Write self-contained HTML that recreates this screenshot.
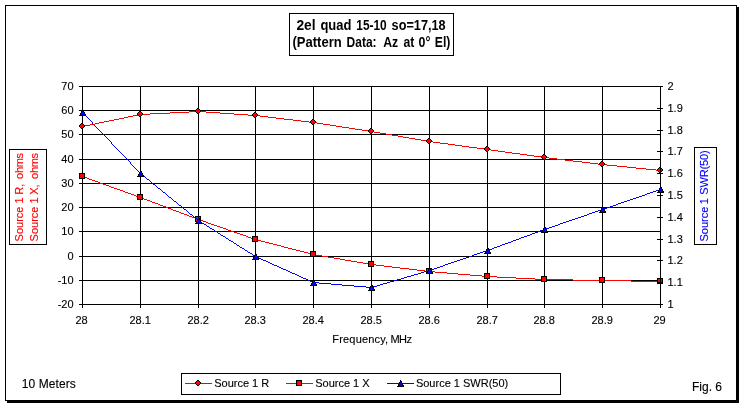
<!DOCTYPE html>
<html lang="en"><head><meta charset="utf-8"><title>2el quad 15-10 so=17,18</title>
<style>
html,body{margin:0;padding:0;background:#fff;}
body{width:744px;height:407px;overflow:hidden;}
svg{display:block;}
text{font-family:"Liberation Sans",sans-serif;font-size:11px;fill:#000;stroke:#000;stroke-width:.12px;}
.t12{font-size:12px;}
.ttl{font-size:14px;font-weight:bold;stroke:none;}
.red{fill:#f00;stroke:#f00;}.blue{fill:#00f;stroke:#00f;}
.ce{shape-rendering:crispEdges;}
</style></head><body>
<svg width="744" height="407" viewBox="0 0 744 407">
<rect x="0" y="0" width="744" height="407" fill="#fff"/>
<g class="ce">
<rect x="7" y="7" width="732" height="396" fill="#000"/>
<rect x="5.5" y="5.5" width="731" height="395" fill="#fff" stroke="#000" stroke-width="1"/>
<rect x="289.5" y="13.5" width="164" height="42" fill="#fff" stroke="#000" stroke-width="1"/>
<rect x="181.5" y="373.5" width="379" height="21" fill="#fff" stroke="#000" stroke-width="1"/>
<rect x="9.5" y="149.5" width="37" height="95" fill="#fff" stroke="#000" stroke-width="1"/>
<rect x="694.5" y="147.5" width="22" height="97" fill="#fff" stroke="#000" stroke-width="1"/>
<rect x="79" y="86" width="582" height="1" fill="#000"/>
<rect x="79" y="110" width="582" height="1" fill="#000"/>
<rect x="79" y="134" width="582" height="1" fill="#000"/>
<rect x="79" y="159" width="582" height="1" fill="#000"/>
<rect x="79" y="183" width="582" height="1" fill="#000"/>
<rect x="79" y="207" width="582" height="1" fill="#000"/>
<rect x="79" y="231" width="582" height="1" fill="#000"/>
<rect x="79" y="256" width="582" height="1" fill="#000"/>
<rect x="79" y="280" width="582" height="1" fill="#000"/>
<rect x="79" y="304" width="582" height="1" fill="#000"/>
<rect x="82" y="86" width="1" height="222" fill="#000"/>
<rect x="140" y="86" width="1" height="222" fill="#000"/>
<rect x="198" y="86" width="1" height="222" fill="#000"/>
<rect x="255" y="86" width="1" height="222" fill="#000"/>
<rect x="313" y="86" width="1" height="222" fill="#000"/>
<rect x="371" y="86" width="1" height="222" fill="#000"/>
<rect x="429" y="86" width="1" height="222" fill="#000"/>
<rect x="487" y="86" width="1" height="222" fill="#000"/>
<rect x="544" y="86" width="1" height="222" fill="#000"/>
<rect x="602" y="86" width="1" height="222" fill="#000"/>
<rect x="660" y="86" width="1" height="222" fill="#000"/>
</g>
<text x="73.6" y="90" text-anchor="end">70</text>
<text x="73.6" y="114" text-anchor="end">60</text>
<text x="73.6" y="138" text-anchor="end">50</text>
<text x="73.6" y="163" text-anchor="end">40</text>
<text x="73.6" y="187" text-anchor="end">30</text>
<text x="73.6" y="211" text-anchor="end">20</text>
<text x="73.6" y="235" text-anchor="end">10</text>
<text x="73.6" y="260" text-anchor="end">0</text>
<text x="73.6" y="284" text-anchor="end">-10</text>
<text x="73.6" y="308" text-anchor="end">-20</text>
<text x="667.5" y="90">2</text>
<text x="667.5" y="112">1.9</text>
<text x="667.5" y="134">1.8</text>
<text x="667.5" y="155">1.7</text>
<text x="667.5" y="177">1.6</text>
<text x="667.5" y="199">1.5</text>
<text x="667.5" y="221">1.4</text>
<text x="667.5" y="243">1.3</text>
<text x="667.5" y="264">1.2</text>
<text x="667.5" y="286">1.1</text>
<text x="667.5" y="308">1</text>
<text x="81.6" y="324" text-anchor="middle">28</text>
<text x="140.2" y="324" text-anchor="middle">28.1</text>
<text x="198.2" y="324" text-anchor="middle">28.2</text>
<text x="255.2" y="324" text-anchor="middle">28.3</text>
<text x="313.2" y="324" text-anchor="middle">28.4</text>
<text x="371.2" y="324" text-anchor="middle">28.5</text>
<text x="429.2" y="324" text-anchor="middle">28.6</text>
<text x="487.2" y="324" text-anchor="middle">28.7</text>
<text x="544.2" y="324" text-anchor="middle">28.8</text>
<text x="602.2" y="324" text-anchor="middle">28.9</text>
<text x="659.6" y="324" text-anchor="middle">29</text>
<text y="343"><tspan x="332.3" textLength="55.8">Frequency,</tspan> <tspan x="390.4" textLength="21.6">MHz</tspan></text>
<text class="ttl" y="30"><tspan x="296.4" textLength="19.2" lengthAdjust="spacingAndGlyphs">2el</tspan> <tspan x="320.4" textLength="31.0" lengthAdjust="spacingAndGlyphs">quad</tspan> <tspan x="356.3" textLength="30.4" lengthAdjust="spacingAndGlyphs">15-10</tspan> <tspan x="391.6" textLength="54.0" lengthAdjust="spacingAndGlyphs">so=17,18</tspan></text>
<text class="ttl" y="47"><tspan x="292.5" textLength="49.2" lengthAdjust="spacingAndGlyphs">(Pattern</tspan> <tspan x="346.6" textLength="30.0" lengthAdjust="spacingAndGlyphs">Data:</tspan> <tspan x="383.2" textLength="15.0" lengthAdjust="spacingAndGlyphs">Az</tspan> <tspan x="403.4" textLength="10.8" lengthAdjust="spacingAndGlyphs">at</tspan> <tspan x="418.6" textLength="11.8" lengthAdjust="spacingAndGlyphs">0°</tspan> <tspan x="434.8" textLength="15.6" lengthAdjust="spacingAndGlyphs">El)</tspan></text>
<text class="red" transform="translate(23,241.4) rotate(-90)"><tspan x="0">Source</tspan> <tspan x="38.0">1</tspan> <tspan x="46.7">R,</tspan> <tspan x="62.5" textLength="25.9">ohms</tspan></text>
<text class="red" transform="translate(38,241.4) rotate(-90)"><tspan x="0">Source</tspan> <tspan x="38.0">1</tspan> <tspan x="46.7">X,</tspan> <tspan x="62.5" textLength="25.9">ohms</tspan></text>
<text class="blue" transform="translate(708,241.5) rotate(-90)"><tspan x="0">Source</tspan> <tspan x="37.2">1</tspan> <tspan x="46.7" textLength="44.5">SWR(50)</tspan></text>
<text class="t12" x="21.8" y="388" textLength="54">10 Meters</text>
<text class="t12" x="692" y="391">Fig. 6</text>
<path class="ce" d="M189 111h17v1h-17zM170 112h19v1h-19zM206 112h14v1h-14zM150 113h20v1h-20zM220 113h14v1h-14zM138 114h12v1h-12zM234 114h14v1h-14zM133 115h5v1h-5zM248 115h12v1h-12zM128 116h5v1h-5zM260 116h8v1h-8zM124 117h4v1h-4zM268 117h8v1h-8zM119 118h5v1h-5zM276 118h8v1h-8zM114 119h5v1h-5zM284 119h9v1h-9zM109 120h5v1h-5zM293 120h8v1h-8zM104 121h5v1h-5zM301 121h8v1h-8zM99 122h5v1h-5zM309 122h8v1h-8zM95 123h4v1h-4zM317 123h6v1h-6zM90 124h5v1h-5zM323 124h7v1h-7zM85 125h5v1h-5zM330 125h6v1h-6zM82 126h3v1h-3zM336 126h6v1h-6zM342 127h7v1h-7zM349 128h6v1h-6zM355 129h7v1h-7zM362 130h6v1h-6zM368 131h6v1h-6zM374 132h6v1h-6zM380 133h6v1h-6zM386 134h6v1h-6zM392 135h6v1h-6zM398 136h5v1h-5zM403 137h6v1h-6zM409 138h6v1h-6zM415 139h6v1h-6zM421 140h6v1h-6zM427 141h6v1h-6zM433 142h7v1h-7zM440 143h8v1h-8zM448 144h7v1h-7zM455 145h7v1h-7zM462 146h7v1h-7zM469 147h8v1h-8zM477 148h7v1h-7zM484 149h7v1h-7zM491 150h7v1h-7zM498 151h7v1h-7zM505 152h7v1h-7zM512 153h8v1h-8zM520 154h7v1h-7zM527 155h7v1h-7zM534 156h7v1h-7zM541 157h8v1h-8zM549 158h8v1h-8zM557 159h8v1h-8zM565 160h8v1h-8zM573 161h9v1h-9zM582 162h8v1h-8zM590 163h8v1h-8zM598 164h9v1h-9zM607 165h10v1h-10zM617 166h10v1h-10zM627 167h9v1h-9zM636 168h10v1h-10zM646 169h10v1h-10zM656 170h5v1h-5z" fill="#f00"/>
<path class="ce" d="M81 123h2v1h-2zM80 124h1v1h-1zM83 124h1v1h-1zM79 125h1v1h-1zM84 125h1v1h-1zM79 126h1v1h-1zM84 126h1v1h-1zM80 127h1v1h-1zM83 127h1v1h-1zM81 128h2v1h-2z" fill="#000"/><path class="ce" d="M81 124h2v1h-2zM80 125h4v1h-4zM80 126h4v1h-4zM81 127h2v1h-2z" fill="#f00"/>
<path class="ce" d="M139 111h2v1h-2zM138 112h1v1h-1zM141 112h1v1h-1zM137 113h1v1h-1zM142 113h1v1h-1zM137 114h1v1h-1zM142 114h1v1h-1zM138 115h1v1h-1zM141 115h1v1h-1zM139 116h2v1h-2z" fill="#000"/><path class="ce" d="M139 112h2v1h-2zM138 113h4v1h-4zM138 114h4v1h-4zM139 115h2v1h-2z" fill="#f00"/>
<path class="ce" d="M197 108h2v1h-2zM196 109h1v1h-1zM199 109h1v1h-1zM195 110h1v1h-1zM200 110h1v1h-1zM195 111h1v1h-1zM200 111h1v1h-1zM196 112h1v1h-1zM199 112h1v1h-1zM197 113h2v1h-2z" fill="#000"/><path class="ce" d="M197 109h2v1h-2zM196 110h4v1h-4zM196 111h4v1h-4zM197 112h2v1h-2z" fill="#f00"/>
<path class="ce" d="M254 112h2v1h-2zM253 113h1v1h-1zM256 113h1v1h-1zM252 114h1v1h-1zM257 114h1v1h-1zM252 115h1v1h-1zM257 115h1v1h-1zM253 116h1v1h-1zM256 116h1v1h-1zM254 117h2v1h-2z" fill="#000"/><path class="ce" d="M254 113h2v1h-2zM253 114h4v1h-4zM253 115h4v1h-4zM254 116h2v1h-2z" fill="#f00"/>
<path class="ce" d="M312 119h2v1h-2zM311 120h1v1h-1zM314 120h1v1h-1zM310 121h1v1h-1zM315 121h1v1h-1zM310 122h1v1h-1zM315 122h1v1h-1zM311 123h1v1h-1zM314 123h1v1h-1zM312 124h2v1h-2z" fill="#000"/><path class="ce" d="M312 120h2v1h-2zM311 121h4v1h-4zM311 122h4v1h-4zM312 123h2v1h-2z" fill="#f00"/>
<path class="ce" d="M370 128h2v1h-2zM369 129h1v1h-1zM372 129h1v1h-1zM368 130h1v1h-1zM373 130h1v1h-1zM368 131h1v1h-1zM373 131h1v1h-1zM369 132h1v1h-1zM372 132h1v1h-1zM370 133h2v1h-2z" fill="#000"/><path class="ce" d="M370 129h2v1h-2zM369 130h4v1h-4zM369 131h4v1h-4zM370 132h2v1h-2z" fill="#f00"/>
<path class="ce" d="M428 138h2v1h-2zM427 139h1v1h-1zM430 139h1v1h-1zM426 140h1v1h-1zM431 140h1v1h-1zM426 141h1v1h-1zM431 141h1v1h-1zM427 142h1v1h-1zM430 142h1v1h-1zM428 143h2v1h-2z" fill="#000"/><path class="ce" d="M428 139h2v1h-2zM427 140h4v1h-4zM427 141h4v1h-4zM428 142h2v1h-2z" fill="#f00"/>
<path class="ce" d="M486 146h2v1h-2zM485 147h1v1h-1zM488 147h1v1h-1zM484 148h1v1h-1zM489 148h1v1h-1zM484 149h1v1h-1zM489 149h1v1h-1zM485 150h1v1h-1zM488 150h1v1h-1zM486 151h2v1h-2z" fill="#000"/><path class="ce" d="M486 147h2v1h-2zM485 148h4v1h-4zM485 149h4v1h-4zM486 150h2v1h-2z" fill="#f00"/>
<path class="ce" d="M543 154h2v1h-2zM542 155h1v1h-1zM545 155h1v1h-1zM541 156h1v1h-1zM546 156h1v1h-1zM541 157h1v1h-1zM546 157h1v1h-1zM542 158h1v1h-1zM545 158h1v1h-1zM543 159h2v1h-2z" fill="#000"/><path class="ce" d="M543 155h2v1h-2zM542 156h4v1h-4zM542 157h4v1h-4zM543 158h2v1h-2z" fill="#f00"/>
<path class="ce" d="M601 161h2v1h-2zM600 162h1v1h-1zM603 162h1v1h-1zM599 163h1v1h-1zM604 163h1v1h-1zM599 164h1v1h-1zM604 164h1v1h-1zM600 165h1v1h-1zM603 165h1v1h-1zM601 166h2v1h-2z" fill="#000"/><path class="ce" d="M601 162h2v1h-2zM600 163h4v1h-4zM600 164h4v1h-4zM601 165h2v1h-2z" fill="#f00"/>
<path class="ce" d="M659 167h2v1h-2zM658 168h1v1h-1zM661 168h1v1h-1zM657 169h1v1h-1zM662 169h1v1h-1zM657 170h1v1h-1zM662 170h1v1h-1zM658 171h1v1h-1zM661 171h1v1h-1zM659 172h2v1h-2z" fill="#000"/><path class="ce" d="M659 168h2v1h-2zM658 169h4v1h-4zM658 170h4v1h-4zM659 171h2v1h-2z" fill="#f00"/>
<path class="ce" d="M82 176h2v1h-2zM84 177h3v1h-3zM87 178h2v1h-2zM89 179h3v1h-3zM92 180h3v1h-3zM95 181h3v1h-3zM98 182h2v1h-2zM100 183h3v1h-3zM103 184h3v1h-3zM106 185h3v1h-3zM109 186h2v1h-2zM111 187h3v1h-3zM114 188h3v1h-3zM117 189h3v1h-3zM120 190h3v1h-3zM123 191h2v1h-2zM125 192h3v1h-3zM128 193h3v1h-3zM131 194h3v1h-3zM134 195h2v1h-2zM136 196h3v1h-3zM139 197h3v1h-3zM142 198h2v1h-2zM144 199h3v1h-3zM147 200h3v1h-3zM150 201h2v1h-2zM152 202h3v1h-3zM155 203h3v1h-3zM158 204h2v1h-2zM160 205h3v1h-3zM163 206h3v1h-3zM166 207h2v1h-2zM168 208h3v1h-3zM171 209h2v1h-2zM173 210h3v1h-3zM176 211h3v1h-3zM179 212h2v1h-2zM181 213h3v1h-3zM184 214h3v1h-3zM187 215h2v1h-2zM189 216h3v1h-3zM192 217h3v1h-3zM195 218h2v1h-2zM197 219h3v1h-3zM200 220h3v1h-3zM203 221h3v1h-3zM206 222h2v1h-2zM208 223h3v1h-3zM211 224h3v1h-3zM214 225h3v1h-3zM217 226h3v1h-3zM220 227h3v1h-3zM223 228h3v1h-3zM226 229h2v1h-2zM228 230h3v1h-3zM231 231h3v1h-3zM234 232h3v1h-3zM237 233h3v1h-3zM240 234h3v1h-3zM243 235h3v1h-3zM246 236h2v1h-2zM248 237h3v1h-3zM251 238h3v1h-3zM254 239h3v1h-3zM257 240h4v1h-4zM261 241h4v1h-4zM265 242h4v1h-4zM269 243h4v1h-4zM273 244h4v1h-4zM277 245h4v1h-4zM281 246h3v1h-3zM284 247h4v1h-4zM288 248h4v1h-4zM292 249h4v1h-4zM296 250h4v1h-4zM300 251h4v1h-4zM304 252h4v1h-4zM308 253h4v1h-4zM312 254h4v1h-4zM316 255h6v1h-6zM322 256h6v1h-6zM328 257h6v1h-6zM334 258h6v1h-6zM340 259h5v1h-5zM345 260h6v1h-6zM351 261h6v1h-6zM357 262h6v1h-6zM363 263h6v1h-6zM369 264h7v1h-7zM376 265h8v1h-8zM384 266h8v1h-8zM392 267h8v1h-8zM400 268h9v1h-9zM409 269h8v1h-8zM417 270h8v1h-8zM425 271h10v1h-10zM435 272h12v1h-12zM447 273h11v1h-11zM458 274h12v1h-12zM470 275h12v1h-12zM482 276h15v1h-15zM497 277h19v1h-19zM516 278h19v1h-19zM535 279h38v1h-38zM573 280h58v1h-58zM631 281h30v1h-30z" fill="#f00"/>
<path class="ce" d="M79 173h6v1h-6zM79 174h1v1h-1zM84 174h1v1h-1zM79 175h1v1h-1zM84 175h1v1h-1zM79 176h1v1h-1zM84 176h1v1h-1zM79 177h1v1h-1zM84 177h1v1h-1zM79 178h6v1h-6z" fill="#000"/><path class="ce" d="M80 174h4v1h-4zM80 175h4v1h-4zM80 176h4v1h-4zM80 177h4v1h-4z" fill="#f00"/>
<path class="ce" d="M137 194h6v1h-6zM137 195h1v1h-1zM142 195h1v1h-1zM137 196h1v1h-1zM142 196h1v1h-1zM137 197h1v1h-1zM142 197h1v1h-1zM137 198h1v1h-1zM142 198h1v1h-1zM137 199h6v1h-6z" fill="#000"/><path class="ce" d="M138 195h4v1h-4zM138 196h4v1h-4zM138 197h4v1h-4zM138 198h4v1h-4z" fill="#f00"/>
<path class="ce" d="M195 216h6v1h-6zM195 217h1v1h-1zM200 217h1v1h-1zM195 218h1v1h-1zM200 218h1v1h-1zM195 219h1v1h-1zM200 219h1v1h-1zM195 220h1v1h-1zM200 220h1v1h-1zM195 221h6v1h-6z" fill="#000"/><path class="ce" d="M196 217h4v1h-4zM196 218h4v1h-4zM196 219h4v1h-4zM196 220h4v1h-4z" fill="#f00"/>
<path class="ce" d="M252 236h6v1h-6zM252 237h1v1h-1zM257 237h1v1h-1zM252 238h1v1h-1zM257 238h1v1h-1zM252 239h1v1h-1zM257 239h1v1h-1zM252 240h1v1h-1zM257 240h1v1h-1zM252 241h6v1h-6z" fill="#000"/><path class="ce" d="M253 237h4v1h-4zM253 238h4v1h-4zM253 239h4v1h-4zM253 240h4v1h-4z" fill="#f00"/>
<path class="ce" d="M310 251h6v1h-6zM310 252h1v1h-1zM315 252h1v1h-1zM310 253h1v1h-1zM315 253h1v1h-1zM310 254h1v1h-1zM315 254h1v1h-1zM310 255h1v1h-1zM315 255h1v1h-1zM310 256h6v1h-6z" fill="#000"/><path class="ce" d="M311 252h4v1h-4zM311 253h4v1h-4zM311 254h4v1h-4zM311 255h4v1h-4z" fill="#f00"/>
<path class="ce" d="M368 261h6v1h-6zM368 262h1v1h-1zM373 262h1v1h-1zM368 263h1v1h-1zM373 263h1v1h-1zM368 264h1v1h-1zM373 264h1v1h-1zM368 265h1v1h-1zM373 265h1v1h-1zM368 266h6v1h-6z" fill="#000"/><path class="ce" d="M369 262h4v1h-4zM369 263h4v1h-4zM369 264h4v1h-4zM369 265h4v1h-4z" fill="#f00"/>
<path class="ce" d="M426 268h6v1h-6zM426 269h1v1h-1zM431 269h1v1h-1zM426 270h1v1h-1zM431 270h1v1h-1zM426 271h1v1h-1zM431 271h1v1h-1zM426 272h1v1h-1zM431 272h1v1h-1zM426 273h6v1h-6z" fill="#000"/><path class="ce" d="M427 269h4v1h-4zM427 270h4v1h-4zM427 271h4v1h-4zM427 272h4v1h-4z" fill="#f00"/>
<path class="ce" d="M484 273h6v1h-6zM484 274h1v1h-1zM489 274h1v1h-1zM484 275h1v1h-1zM489 275h1v1h-1zM484 276h1v1h-1zM489 276h1v1h-1zM484 277h1v1h-1zM489 277h1v1h-1zM484 278h6v1h-6z" fill="#000"/><path class="ce" d="M485 274h4v1h-4zM485 275h4v1h-4zM485 276h4v1h-4zM485 277h4v1h-4z" fill="#f00"/>
<path class="ce" d="M541 276h6v1h-6zM541 277h1v1h-1zM546 277h1v1h-1zM541 278h1v1h-1zM546 278h1v1h-1zM541 279h1v1h-1zM546 279h1v1h-1zM541 280h1v1h-1zM546 280h1v1h-1zM541 281h6v1h-6z" fill="#000"/><path class="ce" d="M542 277h4v1h-4zM542 278h4v1h-4zM542 279h4v1h-4zM542 280h4v1h-4z" fill="#f00"/>
<path class="ce" d="M599 277h6v1h-6zM599 278h1v1h-1zM604 278h1v1h-1zM599 279h1v1h-1zM604 279h1v1h-1zM599 280h1v1h-1zM604 280h1v1h-1zM599 281h1v1h-1zM604 281h1v1h-1zM599 282h6v1h-6z" fill="#000"/><path class="ce" d="M600 278h4v1h-4zM600 279h4v1h-4zM600 280h4v1h-4zM600 281h4v1h-4z" fill="#f00"/>
<path class="ce" d="M657 278h6v1h-6zM657 279h1v1h-1zM662 279h1v1h-1zM657 280h1v1h-1zM662 280h1v1h-1zM657 281h1v1h-1zM662 281h1v1h-1zM657 282h1v1h-1zM662 282h1v1h-1zM657 283h6v1h-6z" fill="#000"/><path class="ce" d="M658 279h4v1h-4zM658 280h4v1h-4zM658 281h4v1h-4zM658 282h4v1h-4z" fill="#f00"/>
<g class="ce">
<rect x="660" y="86" width="1" height="219" fill="#000"/>
<rect x="657" y="86" width="6" height="1" fill="#000"/>
<rect x="657" y="108" width="6" height="1" fill="#000"/>
<rect x="657" y="130" width="6" height="1" fill="#000"/>
<rect x="657" y="151" width="6" height="1" fill="#000"/>
<rect x="657" y="173" width="6" height="1" fill="#000"/>
<rect x="657" y="195" width="6" height="1" fill="#000"/>
<rect x="657" y="217" width="6" height="1" fill="#000"/>
<rect x="657" y="239" width="6" height="1" fill="#000"/>
<rect x="657" y="260" width="6" height="1" fill="#000"/>
<rect x="657" y="282" width="6" height="1" fill="#000"/>
<rect x="657" y="304" width="6" height="1" fill="#000"/>
</g>
<path class="ce" d="M82 112h1v1h-1zM83 113h1v1h-1zM84 114h1v1h-1zM85 115h1v1h-1zM86 116h1v1h-1zM87 117h1v1h-1zM88 118h1v1h-1zM89 119h1v1h-1zM90 120h1v1h-1zM91 121h1v1h-1zM92 122h1v1h-1zM92 123h1v1h-1zM93 124h1v1h-1zM94 125h1v1h-1zM95 126h1v1h-1zM96 127h1v1h-1zM97 128h1v1h-1zM98 129h1v1h-1zM99 130h1v1h-1zM100 131h1v1h-1zM101 132h1v1h-1zM102 133h1v1h-1zM103 134h1v1h-1zM104 135h1v1h-1zM105 136h1v1h-1zM106 137h1v1h-1zM107 138h1v1h-1zM108 139h1v1h-1zM109 140h1v1h-1zM110 141h1v1h-1zM111 142h1v1h-1zM111 143h1v1h-1zM112 144h1v1h-1zM113 145h1v1h-1zM114 146h1v1h-1zM115 147h1v1h-1zM116 148h1v1h-1zM117 149h1v1h-1zM118 150h1v1h-1zM119 151h1v1h-1zM120 152h1v1h-1zM121 153h1v1h-1zM122 154h1v1h-1zM123 155h1v1h-1zM124 156h1v1h-1zM125 157h1v1h-1zM126 158h1v1h-1zM127 159h1v1h-1zM128 160h1v1h-1zM129 161h1v1h-1zM130 162h1v1h-1zM130 163h1v1h-1zM131 164h1v1h-1zM132 165h1v1h-1zM133 166h1v1h-1zM134 167h1v1h-1zM135 168h1v1h-1zM136 169h1v1h-1zM137 170h1v1h-1zM138 171h1v1h-1zM139 172h1v1h-1zM140 173h1v1h-1zM141 174h1v1h-1zM142 175h2v1h-2zM144 176h1v1h-1zM145 177h1v1h-1zM146 178h1v1h-1zM147 179h2v1h-2zM149 180h1v1h-1zM150 181h1v1h-1zM151 182h1v1h-1zM152 183h1v1h-1zM153 184h2v1h-2zM155 185h1v1h-1zM156 186h1v1h-1zM157 187h1v1h-1zM158 188h2v1h-2zM160 189h1v1h-1zM659 189h2v1h-2zM161 190h1v1h-1zM656 190h3v1h-3zM162 191h1v1h-1zM653 191h3v1h-3zM163 192h2v1h-2zM650 192h3v1h-3zM165 193h1v1h-1zM647 193h3v1h-3zM166 194h1v1h-1zM645 194h2v1h-2zM167 195h1v1h-1zM642 195h3v1h-3zM168 196h1v1h-1zM639 196h3v1h-3zM169 197h2v1h-2zM636 197h3v1h-3zM171 198h1v1h-1zM633 198h3v1h-3zM172 199h1v1h-1zM630 199h3v1h-3zM173 200h1v1h-1zM627 200h3v1h-3zM174 201h2v1h-2zM624 201h3v1h-3zM176 202h1v1h-1zM621 202h3v1h-3zM177 203h1v1h-1zM618 203h3v1h-3zM178 204h1v1h-1zM616 204h2v1h-2zM179 205h2v1h-2zM613 205h3v1h-3zM181 206h1v1h-1zM610 206h3v1h-3zM182 207h1v1h-1zM607 207h3v1h-3zM183 208h1v1h-1zM604 208h3v1h-3zM184 209h2v1h-2zM601 209h3v1h-3zM186 210h1v1h-1zM598 210h3v1h-3zM187 211h1v1h-1zM595 211h3v1h-3zM188 212h1v1h-1zM592 212h3v1h-3zM189 213h1v1h-1zM589 213h3v1h-3zM190 214h2v1h-2zM587 214h2v1h-2zM192 215h1v1h-1zM584 215h3v1h-3zM193 216h1v1h-1zM581 216h3v1h-3zM194 217h1v1h-1zM578 217h3v1h-3zM195 218h2v1h-2zM575 218h3v1h-3zM197 219h1v1h-1zM572 219h3v1h-3zM198 220h1v1h-1zM569 220h3v1h-3zM199 221h2v1h-2zM566 221h3v1h-3zM201 222h1v1h-1zM563 222h3v1h-3zM202 223h2v1h-2zM560 223h3v1h-3zM204 224h2v1h-2zM558 224h2v1h-2zM206 225h1v1h-1zM555 225h3v1h-3zM207 226h2v1h-2zM552 226h3v1h-3zM209 227h1v1h-1zM549 227h3v1h-3zM210 228h2v1h-2zM546 228h3v1h-3zM212 229h2v1h-2zM543 229h3v1h-3zM214 230h1v1h-1zM540 230h3v1h-3zM215 231h2v1h-2zM538 231h2v1h-2zM217 232h1v1h-1zM535 232h3v1h-3zM218 233h2v1h-2zM532 233h3v1h-3zM220 234h1v1h-1zM530 234h2v1h-2zM221 235h2v1h-2zM527 235h3v1h-3zM223 236h2v1h-2zM524 236h3v1h-3zM225 237h1v1h-1zM521 237h3v1h-3zM226 238h2v1h-2zM519 238h2v1h-2zM228 239h1v1h-1zM516 239h3v1h-3zM229 240h2v1h-2zM513 240h3v1h-3zM231 241h2v1h-2zM511 241h2v1h-2zM233 242h1v1h-1zM508 242h3v1h-3zM234 243h2v1h-2zM505 243h3v1h-3zM236 244h1v1h-1zM502 244h3v1h-3zM237 245h2v1h-2zM500 245h2v1h-2zM239 246h1v1h-1zM497 246h3v1h-3zM240 247h2v1h-2zM494 247h3v1h-3zM242 248h2v1h-2zM492 248h2v1h-2zM244 249h1v1h-1zM489 249h3v1h-3zM245 250h2v1h-2zM486 250h3v1h-3zM247 251h1v1h-1zM483 251h3v1h-3zM248 252h2v1h-2zM480 252h3v1h-3zM250 253h2v1h-2zM477 253h3v1h-3zM252 254h1v1h-1zM474 254h3v1h-3zM253 255h2v1h-2zM472 255h2v1h-2zM255 256h2v1h-2zM469 256h3v1h-3zM257 257h2v1h-2zM466 257h3v1h-3zM259 258h2v1h-2zM463 258h3v1h-3zM261 259h2v1h-2zM460 259h3v1h-3zM263 260h3v1h-3zM457 260h3v1h-3zM266 261h2v1h-2zM454 261h3v1h-3zM268 262h2v1h-2zM451 262h3v1h-3zM270 263h2v1h-2zM448 263h3v1h-3zM272 264h2v1h-2zM445 264h3v1h-3zM274 265h3v1h-3zM443 265h2v1h-2zM277 266h2v1h-2zM440 266h3v1h-3zM279 267h2v1h-2zM437 267h3v1h-3zM281 268h2v1h-2zM434 268h3v1h-3zM283 269h3v1h-3zM431 269h3v1h-3zM286 270h2v1h-2zM428 270h3v1h-3zM288 271h2v1h-2zM424 271h4v1h-4zM290 272h2v1h-2zM421 272h3v1h-3zM292 273h3v1h-3zM418 273h3v1h-3zM295 274h2v1h-2zM414 274h4v1h-4zM297 275h2v1h-2zM411 275h3v1h-3zM299 276h2v1h-2zM407 276h4v1h-4zM301 277h2v1h-2zM404 277h3v1h-3zM303 278h3v1h-3zM401 278h3v1h-3zM306 279h2v1h-2zM397 279h4v1h-4zM308 280h2v1h-2zM394 280h3v1h-3zM310 281h2v1h-2zM390 281h4v1h-4zM312 282h7v1h-7zM387 282h3v1h-3zM319 283h12v1h-12zM383 283h4v1h-4zM331 284h11v1h-11zM380 284h3v1h-3zM342 285h12v1h-12zM377 285h3v1h-3zM354 286h12v1h-12zM373 286h4v1h-4zM366 287h7v1h-7z" fill="#00f"/>
<path class="ce" d="M82 109h1v1h-1zM82 110h2v1h-2zM81 111h1v1h-1zM83 111h1v1h-1zM81 112h1v1h-1zM84 112h1v1h-1zM80 113h1v1h-1zM84 113h1v1h-1zM80 114h1v1h-1zM85 114h1v1h-1zM79 115h7v1h-7z" fill="#000"/><path class="ce" d="M82 111h1v1h-1zM82 112h2v1h-2zM81 113h3v1h-3zM81 114h4v1h-4z" fill="#00f"/>
<path class="ce" d="M140 170h1v1h-1zM140 171h2v1h-2zM139 172h1v1h-1zM141 172h1v1h-1zM139 173h1v1h-1zM142 173h1v1h-1zM138 174h1v1h-1zM142 174h1v1h-1zM138 175h1v1h-1zM143 175h1v1h-1zM137 176h7v1h-7z" fill="#000"/><path class="ce" d="M140 172h1v1h-1zM140 173h2v1h-2zM139 174h3v1h-3zM139 175h4v1h-4z" fill="#00f"/>
<path class="ce" d="M198 217h1v1h-1zM198 218h2v1h-2zM197 219h1v1h-1zM199 219h1v1h-1zM197 220h1v1h-1zM200 220h1v1h-1zM196 221h1v1h-1zM200 221h1v1h-1zM196 222h1v1h-1zM201 222h1v1h-1zM195 223h7v1h-7z" fill="#000"/><path class="ce" d="M198 219h1v1h-1zM198 220h2v1h-2zM197 221h3v1h-3zM197 222h4v1h-4z" fill="#00f"/>
<path class="ce" d="M255 253h1v1h-1zM255 254h2v1h-2zM254 255h1v1h-1zM256 255h1v1h-1zM254 256h1v1h-1zM257 256h1v1h-1zM253 257h1v1h-1zM257 257h1v1h-1zM253 258h1v1h-1zM258 258h1v1h-1zM252 259h7v1h-7z" fill="#000"/><path class="ce" d="M255 255h1v1h-1zM255 256h2v1h-2zM254 257h3v1h-3zM254 258h4v1h-4z" fill="#00f"/>
<path class="ce" d="M313 279h1v1h-1zM313 280h2v1h-2zM312 281h1v1h-1zM314 281h1v1h-1zM312 282h1v1h-1zM315 282h1v1h-1zM311 283h1v1h-1zM315 283h1v1h-1zM311 284h1v1h-1zM316 284h1v1h-1zM310 285h7v1h-7z" fill="#000"/><path class="ce" d="M313 281h1v1h-1zM313 282h2v1h-2zM312 283h3v1h-3zM312 284h4v1h-4z" fill="#00f"/>
<path class="ce" d="M371 284h1v1h-1zM371 285h2v1h-2zM370 286h1v1h-1zM372 286h1v1h-1zM370 287h1v1h-1zM373 287h1v1h-1zM369 288h1v1h-1zM373 288h1v1h-1zM369 289h1v1h-1zM374 289h1v1h-1zM368 290h7v1h-7z" fill="#000"/><path class="ce" d="M371 286h1v1h-1zM371 287h2v1h-2zM370 288h3v1h-3zM370 289h4v1h-4z" fill="#00f"/>
<path class="ce" d="M429 267h1v1h-1zM429 268h2v1h-2zM428 269h1v1h-1zM430 269h1v1h-1zM428 270h1v1h-1zM431 270h1v1h-1zM427 271h1v1h-1zM431 271h1v1h-1zM427 272h1v1h-1zM432 272h1v1h-1zM426 273h7v1h-7z" fill="#000"/><path class="ce" d="M429 269h1v1h-1zM429 270h2v1h-2zM428 271h3v1h-3zM428 272h4v1h-4z" fill="#00f"/>
<path class="ce" d="M487 247h1v1h-1zM487 248h2v1h-2zM486 249h1v1h-1zM488 249h1v1h-1zM486 250h1v1h-1zM489 250h1v1h-1zM485 251h1v1h-1zM489 251h1v1h-1zM485 252h1v1h-1zM490 252h1v1h-1zM484 253h7v1h-7z" fill="#000"/><path class="ce" d="M487 249h1v1h-1zM487 250h2v1h-2zM486 251h3v1h-3zM486 252h4v1h-4z" fill="#00f"/>
<path class="ce" d="M544 226h1v1h-1zM544 227h2v1h-2zM543 228h1v1h-1zM545 228h1v1h-1zM543 229h1v1h-1zM546 229h1v1h-1zM542 230h1v1h-1zM546 230h1v1h-1zM542 231h1v1h-1zM547 231h1v1h-1zM541 232h7v1h-7z" fill="#000"/><path class="ce" d="M544 228h1v1h-1zM544 229h2v1h-2zM543 230h3v1h-3zM543 231h4v1h-4z" fill="#00f"/>
<path class="ce" d="M602 206h1v1h-1zM602 207h2v1h-2zM601 208h1v1h-1zM603 208h1v1h-1zM601 209h1v1h-1zM604 209h1v1h-1zM600 210h1v1h-1zM604 210h1v1h-1zM600 211h1v1h-1zM605 211h1v1h-1zM599 212h7v1h-7z" fill="#000"/><path class="ce" d="M602 208h1v1h-1zM602 209h2v1h-2zM601 210h3v1h-3zM601 211h4v1h-4z" fill="#00f"/>
<path class="ce" d="M660 186h1v1h-1zM660 187h2v1h-2zM659 188h1v1h-1zM661 188h1v1h-1zM659 189h1v1h-1zM662 189h1v1h-1zM658 190h1v1h-1zM662 190h1v1h-1zM658 191h1v1h-1zM663 191h1v1h-1zM657 192h7v1h-7z" fill="#000"/><path class="ce" d="M660 188h1v1h-1zM660 189h2v1h-2zM659 190h3v1h-3zM659 191h4v1h-4z" fill="#00f"/>
<rect class="ce" x="185" y="383" width="27" height="1" fill="#f00"/>
<path class="ce" d="M197 380h2v1h-2zM196 381h1v1h-1zM199 381h1v1h-1zM195 382h1v1h-1zM200 382h1v1h-1zM195 383h1v1h-1zM200 383h1v1h-1zM196 384h1v1h-1zM199 384h1v1h-1zM197 385h2v1h-2z" fill="#000"/><path class="ce" d="M197 381h2v1h-2zM196 382h4v1h-4zM196 383h4v1h-4zM197 384h2v1h-2z" fill="#f00"/>
<text x="214.2" y="387">Source 1 R</text>
<rect class="ce" x="286" y="383" width="27" height="1" fill="#f00"/>
<path class="ce" d="M296 380h6v1h-6zM296 381h1v1h-1zM301 381h1v1h-1zM296 382h1v1h-1zM301 382h1v1h-1zM296 383h1v1h-1zM301 383h1v1h-1zM296 384h1v1h-1zM301 384h1v1h-1zM296 385h6v1h-6z" fill="#000"/><path class="ce" d="M297 381h4v1h-4zM297 382h4v1h-4zM297 383h4v1h-4zM297 384h4v1h-4z" fill="#f00"/>
<text x="315.2" y="387">Source 1 X</text>
<rect class="ce" x="387" y="383" width="27" height="1" fill="#00f"/>
<path class="ce" d="M400 380h1v1h-1zM400 381h2v1h-2zM399 382h1v1h-1zM401 382h1v1h-1zM399 383h1v1h-1zM402 383h1v1h-1zM398 384h1v1h-1zM402 384h1v1h-1zM398 385h1v1h-1zM403 385h1v1h-1zM397 386h7v1h-7z" fill="#000"/><path class="ce" d="M400 382h1v1h-1zM400 383h2v1h-2zM399 384h3v1h-3zM399 385h4v1h-4z" fill="#00f"/>
<text x="415.9" y="387">Source 1 SWR(50)</text>
</svg>
</body></html>
